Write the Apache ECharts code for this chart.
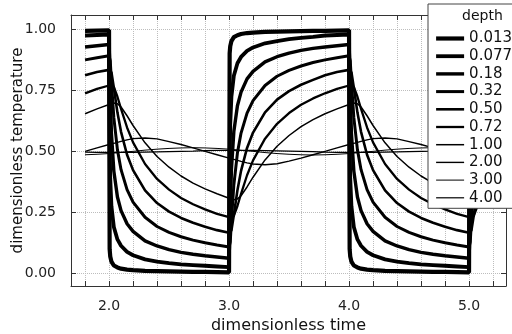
<!DOCTYPE html>
<html>
<head>
<meta charset="utf-8">
<script src="https://cdn.jsdelivr.net/npm/echarts@6/dist/echarts.min.js"></script>
<style>
  html, body { margin: 0; padding: 0; background: #fff; }
  #chart { width: 512px; height: 334px; }
</style>
</head>
<body>
<div id="chart"></div>
<script>
// sample times (dense right after each switch)
const time = [1.8, 1.9, 2.0,
  2.005, 2.01, 2.02, 2.04, 2.07, 2.1, 2.15, 2.2, 2.3, 2.4, 2.5, 2.6, 2.7, 2.8, 2.9, 3.0,
  3.005, 3.01, 3.02, 3.04, 3.07, 3.1, 3.15, 3.2, 3.3, 3.4, 3.5, 3.6, 3.7, 3.8, 3.9, 4.0,
  4.005, 4.01, 4.02, 4.04, 4.07, 4.1, 4.15, 4.2, 4.3, 4.4, 4.5, 4.6, 4.7, 4.8, 4.9, 5.0,
  5.005, 5.01, 5.02, 5.04, 5.07, 5.1, 5.15, 5.2];

const depths = ["0.013", "0.077", "0.18", "0.32", "0.50", "0.72", "1.00", "2.00", "3.00", "4.00"];

const temp0013 = [0.994, 0.995, 0.996,
  0.099, 0.069, 0.048, 0.032, 0.024, 0.019, 0.015, 0.013, 0.010, 0.009, 0.008, 0.007, 0.006, 0.006, 0.005, 0.004,
  0.901, 0.931, 0.952, 0.968, 0.976, 0.981, 0.985, 0.987, 0.990, 0.991, 0.992, 0.993, 0.994, 0.994, 0.995, 0.996,
  0.099, 0.069, 0.048, 0.032, 0.024, 0.019, 0.015, 0.013, 0.010, 0.009, 0.008, 0.007, 0.006, 0.006, 0.005, 0.004,
  0.901, 0.931, 0.952, 0.968, 0.976, 0.981, 0.985, 0.987];
const temp0077 = [0.975, 0.977, 0.979,
  0.534, 0.389, 0.275, 0.190, 0.139, 0.113, 0.088, 0.074, 0.057, 0.048, 0.042, 0.037, 0.034, 0.031, 0.028, 0.025,
  0.466, 0.611, 0.725, 0.810, 0.861, 0.887, 0.912, 0.926, 0.943, 0.952, 0.960, 0.965, 0.969, 0.975, 0.977, 0.979,
  0.534, 0.389, 0.275, 0.190, 0.139, 0.113, 0.088, 0.074, 0.057, 0.048, 0.042, 0.037, 0.034, 0.031, 0.028, 0.025,
  0.466, 0.611, 0.725, 0.810, 0.861, 0.887, 0.912, 0.926];
const temp018 = [0.928, 0.933, 0.938,
  0.870, 0.739, 0.574, 0.419, 0.313, 0.257, 0.203, 0.172, 0.133, 0.112, 0.097, 0.086, 0.078, 0.072, 0.067, 0.062,
  0.130, 0.261, 0.426, 0.581, 0.687, 0.743, 0.797, 0.828, 0.867, 0.888, 0.903, 0.914, 0.922, 0.928, 0.933, 0.938,
  0.870, 0.739, 0.574, 0.419, 0.313, 0.257, 0.203, 0.172, 0.133, 0.112, 0.097, 0.086, 0.078, 0.072, 0.067, 0.062,
  0.130, 0.261, 0.426, 0.581, 0.687, 0.743, 0.797, 0.828];
const temp032 = [0.875, 0.884, 0.892,
  0.893, 0.871, 0.785, 0.638, 0.506, 0.425, 0.343, 0.292, 0.230, 0.192, 0.168, 0.150, 0.136, 0.125, 0.116, 0.108,
  0.107, 0.129, 0.215, 0.362, 0.494, 0.575, 0.657, 0.708, 0.770, 0.808, 0.832, 0.850, 0.864, 0.875, 0.884, 0.892,
  0.893, 0.871, 0.785, 0.638, 0.506, 0.425, 0.343, 0.292, 0.230, 0.192, 0.168, 0.150, 0.136, 0.125, 0.116, 0.108,
  0.107, 0.129, 0.215, 0.362, 0.494, 0.575, 0.657, 0.708];
const temp050 = [0.812, 0.825, 0.834,
  0.835, 0.835, 0.824, 0.761, 0.659, 0.580, 0.486, 0.423, 0.340, 0.288, 0.253, 0.227, 0.207, 0.191, 0.177, 0.166,
  0.165, 0.165, 0.176, 0.239, 0.341, 0.420, 0.514, 0.577, 0.660, 0.712, 0.747, 0.773, 0.793, 0.812, 0.825, 0.834,
  0.835, 0.835, 0.824, 0.761, 0.659, 0.580, 0.486, 0.423, 0.340, 0.288, 0.253, 0.227, 0.207, 0.191, 0.177, 0.166,
  0.165, 0.165, 0.176, 0.239, 0.341, 0.420, 0.514, 0.577];
const temp072 = [0.738, 0.756, 0.770,
  0.771, 0.772, 0.772, 0.764, 0.724, 0.674, 0.598, 0.537, 0.448, 0.387, 0.343, 0.309, 0.283, 0.262, 0.244, 0.230,
  0.229, 0.228, 0.228, 0.236, 0.276, 0.326, 0.402, 0.463, 0.552, 0.613, 0.657, 0.691, 0.717, 0.738, 0.756, 0.770,
  0.771, 0.772, 0.772, 0.764, 0.724, 0.674, 0.598, 0.537, 0.448, 0.387, 0.343, 0.309, 0.283, 0.262, 0.244, 0.230,
  0.229, 0.228, 0.228, 0.236, 0.276, 0.326, 0.402, 0.463];
const temp100 = [0.654, 0.674, 0.692,
  0.693, 0.695, 0.696, 0.698, 0.695, 0.682, 0.646, 0.606, 0.535, 0.479, 0.435, 0.399, 0.370, 0.346, 0.326, 0.308,
  0.307, 0.305, 0.304, 0.302, 0.305, 0.318, 0.354, 0.394, 0.465, 0.521, 0.565, 0.601, 0.630, 0.654, 0.674, 0.692,
  0.693, 0.695, 0.696, 0.698, 0.695, 0.682, 0.646, 0.606, 0.535, 0.479, 0.435, 0.399, 0.370, 0.346, 0.326, 0.308,
  0.307, 0.305, 0.304, 0.302, 0.305, 0.318, 0.354, 0.394];
const temp200 = [0.500, 0.514, 0.528,
  0.529, 0.529, 0.531, 0.533, 0.537, 0.541, 0.547, 0.552, 0.555, 0.551, 0.540, 0.528, 0.514, 0.500, 0.486, 0.472,
  0.471, 0.471, 0.469, 0.467, 0.463, 0.459, 0.453, 0.448, 0.445, 0.449, 0.460, 0.472, 0.486, 0.500, 0.514, 0.528,
  0.529, 0.529, 0.531, 0.533, 0.537, 0.541, 0.547, 0.552, 0.555, 0.551, 0.540, 0.528, 0.514, 0.500, 0.486, 0.472,
  0.471, 0.471, 0.469, 0.467, 0.463, 0.459, 0.453, 0.448];
const temp300 = [0.486, 0.488, 0.491,
  0.492, 0.492, 0.492, 0.493, 0.494, 0.496, 0.498, 0.500, 0.505, 0.509, 0.512, 0.514, 0.515, 0.514, 0.512, 0.509,
  0.508, 0.508, 0.508, 0.507, 0.506, 0.504, 0.502, 0.500, 0.495, 0.491, 0.488, 0.486, 0.485, 0.486, 0.488, 0.491,
  0.492, 0.492, 0.492, 0.493, 0.494, 0.496, 0.498, 0.500, 0.505, 0.509, 0.512, 0.514, 0.515, 0.514, 0.512, 0.509,
  0.508, 0.508, 0.508, 0.507, 0.506, 0.504, 0.502, 0.500];
const temp400 = [0.497, 0.496, 0.496,
  0.496, 0.496, 0.496, 0.496, 0.496, 0.496, 0.496, 0.496, 0.497, 0.498, 0.499, 0.500, 0.501, 0.503, 0.504, 0.504,
  0.504, 0.504, 0.504, 0.504, 0.504, 0.504, 0.504, 0.504, 0.503, 0.502, 0.501, 0.500, 0.499, 0.497, 0.496, 0.496,
  0.496, 0.496, 0.496, 0.496, 0.496, 0.496, 0.496, 0.496, 0.497, 0.498, 0.499, 0.500, 0.501, 0.503, 0.504, 0.504,
  0.504, 0.504, 0.504, 0.504, 0.504, 0.504, 0.504, 0.504];

const xTicks = [1.8, 2.0, 2.2, 2.4, 2.6, 2.8, 3.0, 3.2, 3.4, 3.6, 3.8, 4.0, 4.2, 4.4, 4.6, 4.8, 5.0, 5.2];
const xLabels = [2, 3, 4, 5];
const yTicks = [0, 0.25, 0.5, 0.75, 1];

const temps = [temp0013, temp0077, temp018, temp032, temp050, temp072, temp100, temp200, temp300, temp400];
const widths = [4.2, 3.8, 3.4, 3.0, 2.6, 2.3, 1.5, 1.4, 1.0, 1.2];

const FONT = "DejaVu Sans";
const axisColor = "#333";
const gridLine = { show: true, lineStyle: { color: "#bdbdbd", type: "dotted", width: 1 } };

const chart = echarts.init(document.getElementById("chart"), null, { renderer: "canvas" });

const series = depths.map((name, k) => ({
  name,
  type: "line",
  symbol: "none",
  showSymbol: false,
  silent: true,
  z: 2,
  lineStyle: { color: "#000", width: widths[k] },
  itemStyle: { color: "#000" },
  data: time.map((t, i) => [t, temps[k][i]])
}));

// shared settings for the four sides of the frame
const frameAxis = {
  type: "value",
  axisLine: { show: true, onZero: false, lineStyle: { color: axisColor, width: 1 } },
  axisLabel: { show: false },
  splitLine: { show: false }
};
const tick = (values) => ({
  show: true, inside: true, length: 5, customValues: values,
  lineStyle: { color: axisColor, width: 1 }
});

chart.setOption({
  animation: false,
  textStyle: { fontFamily: FONT },
  grid: { left: 71, right: 6, top: 15, bottom: 48, outerBoundsMode: "none", containLabel: false },
  xAxis: [
    {
      ...frameAxis, position: "bottom", min: 1.683, max: 5.308,
      axisTick: tick(xTicks),
      axisLabel: {
        show: true, customValues: xLabels, margin: 13, fontSize: 14, color: "#222", fontFamily: FONT,
        formatter: (v) => v.toFixed(1)
      },
      splitLine: gridLine,
      name: "dimensionless time", nameLocation: "middle", nameGap: 32, nameMoveOverlap: false,
      nameTextStyle: { fontSize: 16, color: "#111", fontFamily: FONT }
    },
    { ...frameAxis, position: "top", min: 1.683, max: 5.308, axisTick: tick(xTicks) }
  ],
  yAxis: [
    {
      ...frameAxis, position: "left", min: -0.052, max: 1.059,
      axisTick: tick(yTicks),
      axisLabel: {
        show: true, customValues: yTicks, margin: 15, fontSize: 14, color: "#222", fontFamily: FONT,
        formatter: (v) => v.toFixed(2)
      },
      splitLine: gridLine,
      name: "dimensionless temperature", nameLocation: "middle", nameGap: 45, nameMoveOverlap: false,
      nameTextStyle: { fontSize: 15, color: "#111", fontFamily: FONT }
    },
    { ...frameAxis, position: "right", min: -0.052, max: 1.059, axisTick: tick(yTicks) }
  ],
  legend: {
    data: depths,
    orient: "vertical",
    left: 428, top: 4,
    z: 20,
    padding: [27, 30, 3, 6],
    itemWidth: 28, itemHeight: 10, itemGap: 2.7,
    selectedMode: false,
    backgroundColor: "#fff",
    borderColor: "#444", borderWidth: 1,
    textStyle: { fontSize: 15, color: "#111", fontFamily: FONT, lineHeight: 15 },
    lineStyle: { width: "inherit" },
    itemStyle: { opacity: 0 }
  },
  graphic: [{
    type: "text", left: 462, top: 9, z: 100,
    style: { text: "depth", fill: "#111", font: "14px " + FONT }
  }],
  series
});
</script>
</body>
</html>
